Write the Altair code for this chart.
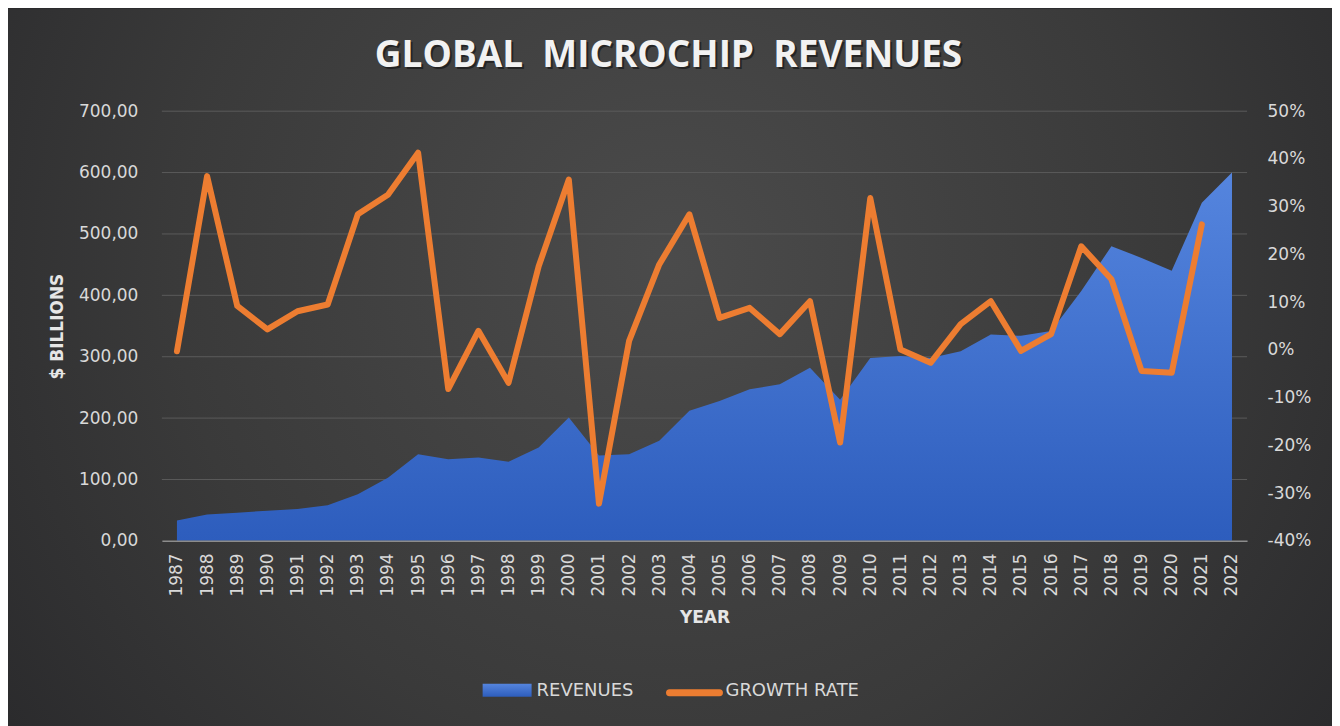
import altair as alt
import pandas as pd

# ---- data ----
years = [str(y) for y in range(1987, 2023)]
revenues = [33, 43, 46, 49, 52, 58, 76, 103, 141, 133, 136, 129, 152, 201, 139, 141,
            163, 212, 228, 247, 255, 282, 230, 298, 301, 298, 309, 336, 334, 342,
            407, 480, 461, 440, 551, 600]
growth = [-0.3, 36.4, 9.2, 4.3, 8.1, 9.5, 28.4, 32.5, 41.3, -8.2, 4.0, -6.9, 17.5,
          35.7, -32.2, 1.9, 17.9, 28.4, 6.7, 8.8, 3.3, 10.2, -19.4, 31.8, 0.1, -2.7,
          5.4, 10.2, -0.2, 3.3, 21.7, 14.8, -4.4, -4.8, 26.3, None]
rev_ticks = [0, 100, 200, 300, 400, 500, 600, 700]
growth_ticks = [-40, -30, -20, -10, 0, 10, 20, 30, 40, 50]
title_text = ["GLOBAL\u00a0\u00a0MICROCHIP\u00a0\u00a0REVENUES"]
legend_labels = ["REVENUES", "GROWTH RATE"]

df = pd.DataFrame({"year": years, "revenue": revenues, "growth": growth})
grid_df = pd.DataFrame({"tick": rev_ticks[1:]})

W, H = 1086, 430
LABEL_FONT = "DejaVu Sans"
LABEL_COLOR = "#d9d9d9"

x_enc = alt.X(
    "year:O",
    scale=alt.Scale(type="point", padding=0.5),
    axis=alt.Axis(
        title="YEAR", labelAngle=-90, labelFont=LABEL_FONT, labelFontSize=17,
        labelColor=LABEL_COLOR, labelPadding=12, ticks=False,
        domainColor="#8c8c8c", domainWidth=1.5, grid=False,
        titleFont=LABEL_FONT, titleFontSize=17, titleFontWeight="bold",
        titleColor="#e6e6e6", titlePadding=13, zindex=1,
    ),
)

# background panel (radial gradient)
bg = alt.Chart(pd.DataFrame({"k": [0]})).mark_rect(
    fill=alt.Gradient(
        gradient="radial",
        stops=[alt.GradientStop(color="#4b4b4b", offset=0),
               alt.GradientStop(color="#3a3a3a", offset=0.5),
               alt.GradientStop(color="#222225", offset=1)],
        x1=0.5, y1=0.42, r1=0, x2=0.5, y2=0.42, r2=0.75,
    )
).encode(x=alt.value(-154), x2=alt.value(1171), y=alt.value(-102.5), y2=alt.value(615.5))

# horizontal gridlines (behind the area)
grid = alt.Chart(grid_df).mark_rule(color="#5a5a5a", strokeWidth=1).encode(
    y=alt.Y("tick:Q", scale=alt.Scale(domain=[0, 700], nice=False), axis=None),
    x=alt.value(0), x2=alt.value(W),
)

area = alt.Chart(df).mark_area(
    color=alt.Gradient(
        gradient="linear",
        stops=[alt.GradientStop(color="#5585de", offset=0),
               alt.GradientStop(color="#2d5dbd", offset=1)],
        x1=1, x2=1, y1=0, y2=1,
    )
).encode(
    x=x_enc,
    y=alt.Y(
        "revenue:Q",
        scale=alt.Scale(domain=[0, 700], nice=False),
        axis=alt.Axis(
            values=rev_ticks, labelExpr="replace(format(datum.value, '.2f'), '.', ',')",
            title="$ BILLIONS", titleFont=LABEL_FONT, titleFontSize=17,
            titleFontWeight="bold", titleColor="#e6e6e6", titlePadding=12,
            labelFont=LABEL_FONT, labelFontSize=17, labelColor=LABEL_COLOR,
            labelPadding=24, ticks=False, domain=False, grid=False, zindex=1,
        ),
    ),
)

line = alt.Chart(df).mark_line(
    color="#ed7d31", strokeWidth=6, strokeJoin="round", strokeCap="round"
).encode(
    x=alt.X("year:O"),
    y=alt.Y(
        "growth:Q",
        scale=alt.Scale(domain=[-40, 50], nice=False),
        axis=alt.Axis(
            orient="right", values=growth_ticks, labelExpr="datum.value + '%'",
            title=None, labelFont=LABEL_FONT, labelFontSize=17,
            labelColor=LABEL_COLOR, labelPadding=20, ticks=False,
            domain=False, grid=False, zindex=1,
        ),
    ),
)

tdf = pd.DataFrame({"t": title_text})
title_shadow = alt.Chart(tdf).mark_text(
    font="Open Sans", fontSize=37, fontWeight="bold", color="#111111", opacity=0.6,
    align="center", baseline="middle", dx=2, dy=2,
).encode(x=alt.value(507), y=alt.value(-55.5), text="t:N")
title = alt.Chart(tdf).mark_text(
    font="Open Sans", fontSize=37, fontWeight="bold", color="#f2f2f2",
    align="center", baseline="middle",
).encode(x=alt.value(507), y=alt.value(-55.5), text="t:N")

# legend
ldf1 = pd.DataFrame({"label": [legend_labels[0]]})
ldf2 = pd.DataFrame({"label": [legend_labels[1]]})
leg_swatch = alt.Chart(ldf1).mark_rect(
    color=alt.Gradient(
        gradient="linear",
        stops=[alt.GradientStop(color="#5585de", offset=0),
               alt.GradientStop(color="#2d5dbd", offset=1)],
        x1=1, x2=1, y1=0, y2=1,
    )
).encode(x=alt.value(321), x2=alt.value(370), y=alt.value(573), y2=alt.value(586))
leg_text1 = alt.Chart(ldf1).mark_text(
    font=LABEL_FONT, fontSize=18, color=LABEL_COLOR, align="left", baseline="middle"
).encode(x=alt.value(375), y=alt.value(580), text="label:N")
leg_line = alt.Chart(ldf2).mark_rule(
    color="#ed7d31", strokeWidth=7, strokeCap="round"
).encode(x=alt.value(508), x2=alt.value(558), y=alt.value(582))
leg_text2 = alt.Chart(ldf2).mark_text(
    font=LABEL_FONT, fontSize=18, color=LABEL_COLOR, align="left", baseline="middle"
).encode(x=alt.value(564), y=alt.value(580), text="label:N")

chart = alt.layer(
    bg, grid, area, line, title_shadow, title, leg_swatch, leg_text1, leg_line, leg_text2
).resolve_scale(y="independent").properties(
    width=W, height=H, padding=0, background="#2a2a2c"
).configure_view(strokeWidth=0)

chart.save("out.html", embed_options={"renderer": "svg", "actions": False})
